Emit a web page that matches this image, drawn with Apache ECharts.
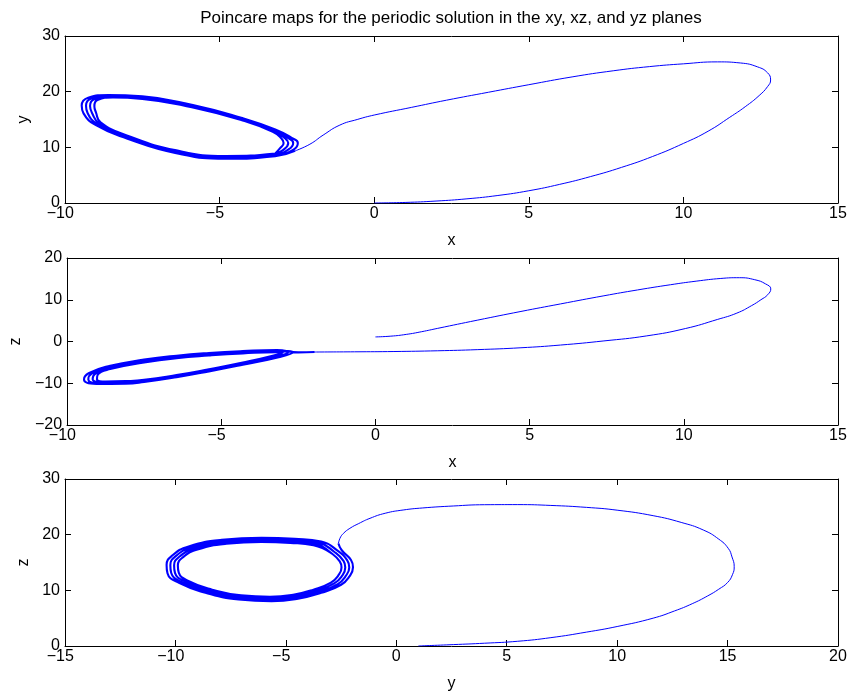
<!DOCTYPE html>
<html>
<head>
<meta charset="utf-8">
<title>Poincare maps</title>
<script src="https://cdn.jsdelivr.net/npm/echarts@6/dist/echarts.min.js"></script>
<style>
  html, body { margin: 0; padding: 0; background: #ffffff; }
  #chart { width: 854px; height: 694px; }
</style>
</head>
<body>
<div id="chart"></div>
<script>
// ---- Trajectory data, one set per projection plane ----

// xy plane: the excursion from the start point, then the loops that wind onto the cycle
const xyTransient = [[0.0,0.0],[1.0,0.1],[2.0,0.35],[3.0,0.75],[4.0,1.35],[5.0,2.2],[6.0,3.35],[7.0,4.75],[8.0,6.4],[9.0,8.35],[10.0,10.7],[10.8,12.9],[11.5,15.4],[12.0,17.3],[12.45,19.3],[12.72,20.9],[12.82,22.1],[12.72,23.4],[12.4,24.45],[11.85,25.15],[11.1,25.35],[10.0,25.0],[8.9,24.5],[7.73,23.75],[6.4,22.65],[5.0,21.25],[3.7,19.9],[2.34,18.47],[1.2,17.17],[0.0,15.8],[-0.55,15.0],[-1.11,14.0],[-1.65,12.2],[-2.08,10.56],[-2.56,9.36]];
const xyLoops = [
  [[-3.2,8.4],[-4.8,7.95],[-6.4,8.95],[-8.0,11.6],[-9.0,14.0],[-9.4,16.1],[-9.46,17.5],[-9.25,18.9],[-8.6,19.4],[-7.5,19.15],[-5.9,17.65],[-4.3,15.3],[-3.2,13.2],[-2.67,11.7],[-2.47,10.8],[-2.61,9.6]],
  [[-3.2,8.57],[-4.8,8.12],[-6.4,9.12],[-8.0,11.78],[-8.95,14.17],[-9.27,16.17],[-9.32,17.47],[-9.15,18.77],[-8.55,19.25],[-7.5,19.0],[-5.9,17.5],[-4.3,15.17],[-3.23,13.07],[-2.78,11.67],[-2.62,10.8],[-2.76,9.67]],
  [[-3.2,8.73],[-4.8,8.28],[-6.4,9.28],[-8.0,11.97],[-8.9,14.33],[-9.13,16.23],[-9.19,17.43],[-9.05,18.63],[-8.5,19.1],[-7.5,18.85],[-5.9,17.35],[-4.3,15.03],[-3.25,12.93],[-2.89,11.63],[-2.78,10.8],[-2.9,9.73]],
  [[-3.2,8.9],[-4.8,8.45],[-6.4,9.45],[-8.0,12.15],[-8.85,14.5],[-9.0,16.3],[-9.05,17.4],[-8.95,18.5],[-8.45,18.95],[-7.5,18.7],[-5.9,17.2],[-4.3,14.9],[-3.28,12.8],[-3.0,11.6],[-2.93,10.8],[-3.05,9.8]]
];

// xz plane
const xzTransient = [[0.0,1.1],[0.5,1.28],[1.0,1.7],[1.5,2.35],[2.02,3.15],[3.3,5.1],[4.72,7.2],[6.0,9.0],[7.41,10.95],[8.5,12.35],[9.57,13.6],[10.4,14.45],[11.2,15.1],[11.8,15.28],[12.3,14.8],[12.65,13.8],[12.82,12.6],[12.72,11.2],[12.5,10.0],[12.2,8.6],[11.72,6.8],[11.1,5.3],[10.05,3.1],[8.8,1.35],[7.41,0.14],[6.0,-0.85],[4.72,-1.5],[3.3,-1.95],[2.02,-2.22],[0.6,-2.4],[-0.68,-2.47],[-1.97,-2.52]];
const xzLoops = [
  [[-2.5,-2.6],[-3.2,-2.05],[-4.3,-2.3],[-5.4,-2.75],[-6.45,-3.4],[-7.5,-4.35],[-8.6,-5.8],[-9.3,-7.6],[-9.45,-9.1],[-9.05,-10.15],[-8.1,-10.1],[-7.5,-9.7],[-6.45,-8.55],[-5.4,-7.15],[-4.3,-5.55],[-3.1,-3.7]],
  [[-2.67,-2.6],[-3.2,-2.22],[-4.3,-2.48],[-5.4,-2.95],[-6.45,-3.6],[-7.5,-4.58],[-8.6,-6.07],[-9.2,-7.7],[-9.31,-9.08],[-8.95,-9.97],[-8.1,-9.9],[-7.5,-9.53],[-6.45,-8.38],[-5.4,-6.98],[-4.3,-5.38],[-3.17,-3.58]],
  [[-2.83,-2.6],[-3.2,-2.38],[-4.3,-2.67],[-5.4,-3.15],[-6.45,-3.8],[-7.5,-4.82],[-8.6,-6.33],[-9.1,-7.8],[-9.17,-9.07],[-8.85,-9.78],[-8.1,-9.7],[-7.5,-9.37],[-6.45,-8.22],[-5.4,-6.82],[-4.3,-5.22],[-3.23,-3.47]],
  [[-3.0,-2.6],[-3.2,-2.55],[-4.3,-2.85],[-5.4,-3.35],[-6.45,-4.0],[-7.5,-5.05],[-8.6,-6.6],[-9.0,-7.9],[-9.03,-9.05],[-8.75,-9.6],[-8.1,-9.5],[-7.5,-9.2],[-6.45,-8.05],[-5.4,-6.65],[-4.3,-5.05],[-3.3,-3.35]]
];

// third panel: z along the horizontal axis, y along the vertical axis
const zyTransient = [[1.0,0.0],[2.58,0.25],[4.0,0.5],[5.5,0.85],[7.0,1.5],[8.62,2.5],[10.0,3.5],[11.63,5.0],[12.6,6.3],[13.4,7.6],[14.1,9.0],[14.6,10.2],[15.0,11.4],[15.22,12.8],[15.3,14.25],[15.2,16.0],[15.03,17.55],[14.6,19.2],[13.9,20.84],[12.9,22.2],[11.63,23.41],[10.0,24.4],[8.62,24.9],[7.0,25.25],[5.5,25.4],[4.0,25.38],[2.58,25.15],[1.2,24.8],[0.31,24.43],[-0.5,23.85],[-1.19,22.94],[-1.7,22.0],[-2.1,21.14],[-2.4,20.2],[-2.55,19.35],[-2.62,18.4]];
const zyLoops = [
  [[-2.47,17.2],[-2.05,15.45],[-1.96,14.14],[-2.13,12.45],[-2.5,11.0],[-3.4,9.55],[-4.45,8.5],[-5.65,8.07],[-7.14,8.37],[-8.64,9.57],[-9.84,11.33],[-10.36,13.08],[-10.4,14.55],[-10.13,16.3],[-9.4,17.88],[-7.9,19.07],[-6.1,19.43],[-4.6,19.25],[-3.4,18.77]],
  [[-2.63,17.04],[-2.22,15.37],[-2.13,14.12],[-2.3,12.52],[-2.65,11.13],[-3.52,9.74],[-4.52,8.73],[-5.67,8.33],[-7.1,8.61],[-8.54,9.75],[-9.69,11.44],[-10.19,13.11],[-10.23,14.51],[-9.97,16.19],[-9.27,17.7],[-7.83,18.83],[-6.1,19.18],[-4.67,19.01],[-3.52,18.55]],
  [[-2.8,16.89],[-2.39,15.28],[-2.31,14.11],[-2.46,12.58],[-2.81,11.26],[-3.63,9.93],[-4.6,8.97],[-5.7,8.58],[-7.07,8.85],[-8.44,9.94],[-9.54,11.54],[-10.02,13.14],[-10.06,14.48],[-9.81,16.08],[-9.13,17.52],[-7.76,18.6],[-6.11,18.92],[-4.73,18.76],[-3.63,18.32]],
  [[-2.96,16.73],[-2.56,15.2],[-2.48,14.09],[-2.63,12.65],[-2.96,11.39],[-3.75,10.12],[-4.67,9.2],[-5.72,8.84],[-7.03,9.09],[-8.34,10.12],[-9.39,11.65],[-9.85,13.17],[-9.89,14.44],[-9.65,15.97],[-9.0,17.34],[-7.69,18.36],[-6.11,18.67],[-4.8,18.52],[-3.75,18.1]]
];

// Axis ranges and tick steps
const xRanges = [[-10, 15, 5], [-10, 15, 5], [-15, 20, 5]];
const yRanges = [[0, 30, 10], [-20, 20, 10], [0, 30, 10]];
const xNames = ['x', 'x', 'y'];
const yNames = ['y', 'z', 'z'];
const titleText = 'Poincare maps for the periodic solution in the xy, xz, and yz planes';

// ---- Layout / styling ----
const FONT = '"Liberation Sans", Arial, Helvetica, sans-serif';
const gridTops = [36, 258, 479];
const yNameGaps = [27, 36, 26];
const LINE_COLOR = '#0000ff';
const MINUS = '\u2212';

// x tick labels: the digits sit centred on the tick, the minus sign hangs to the left
// (a transparent copy of the sign on the right balances the label box)
const fmtX = v => (v < 0 ? MINUS + Math.abs(v) + '{pad|' + MINUS + '}' : String(v));
const fmtY = v => (v < 0 ? MINUS + Math.abs(v) : String(v));

const grids = [], xAxes = [], yAxes = [], series = [];
const transients = [xyTransient, xzTransient, zyTransient];
const loopSets = [xyLoops, xzLoops, zyLoops];

for (let i = 0; i < 3; i++) {
  grids.push({ left: 65, top: gridTops[i], width: 773, height: 167, containLabel: false });
  const [x0, x1, xs] = xRanges[i];
  const [y0, y1, ys] = yRanges[i];
  const tick = { show: true, inside: true, length: 6, lineStyle: { color: '#000', width: 1 } };
  const line = { show: true, onZero: false, lineStyle: { color: '#000', width: 1 } };
  const nameStyle = { color: '#000', fontSize: 16, fontFamily: FONT };
  xAxes.push({
    type: 'value', gridIndex: i, position: 'bottom', min: x0, max: x1, interval: xs,
    axisLine: line, axisTick: tick, splitLine: { show: false },
    axisLabel: {
      margin: 3, color: '#000', fontSize: 16, fontFamily: FONT, formatter: fmtX,
      rich: { pad: { color: 'rgba(0,0,0,0)', fontSize: 16, fontFamily: FONT } }
    },
    name: xNames[i], nameLocation: 'middle', nameGap: 30, nameTextStyle: nameStyle
  });
  xAxes.push({
    type: 'value', gridIndex: i, position: 'top', min: x0, max: x1, interval: xs,
    axisLine: line, axisTick: tick, splitLine: { show: false }, axisLabel: { show: false }
  });
  yAxes.push({
    type: 'value', gridIndex: i, position: 'left', min: y0, max: y1, interval: ys,
    axisLine: line, axisTick: tick, splitLine: { show: false },
    axisLabel: { margin: 5, color: '#000', fontSize: 16, fontFamily: FONT, formatter: fmtY },
    name: yNames[i], nameLocation: 'middle', nameGap: yNameGaps[i], nameTextStyle: nameStyle
  });
  yAxes.push({
    type: 'value', gridIndex: i, position: 'right', min: y0, max: y1, interval: ys,
    axisLine: line, axisTick: tick, splitLine: { show: false }, axisLabel: { show: false }
  });

  const tr = transients[i];
  const loops = loopSets[i];
  // the winding part picks up where the excursion ends and closes on its innermost loop
  const wind = [tr[tr.length - 1]].concat(...loops).concat([loops[loops.length - 1][0]]);

  series.push({
    type: 'line', xAxisIndex: 2 * i, yAxisIndex: 2 * i, data: tr,
    showSymbol: false, smooth: 0.5, animation: false, silent: true,
    lineStyle: { color: LINE_COLOR, width: 1 }
  });
  series.push({
    type: 'line', xAxisIndex: 2 * i, yAxisIndex: 2 * i, data: wind,
    showSymbol: false, smooth: 0.5, animation: false, silent: true,
    lineStyle: { color: LINE_COLOR, width: 2.1 }
  });
}

const chart = echarts.init(document.getElementById('chart'), null, { renderer: 'canvas' });
chart.setOption({
  backgroundColor: '#ffffff',
  animation: false,
  grid: grids,
  xAxis: xAxes,
  yAxis: yAxes,
  series: series,
  graphic: [{
    type: 'text', x: 451, y: 18, silent: true,
    style: {
      text: titleText, fill: '#000', font: '17px ' + FONT,
      align: 'center', verticalAlign: 'middle',
      textAlign: 'center', textVerticalAlign: 'middle'
    }
  }]
});
</script>
</body>
</html>
